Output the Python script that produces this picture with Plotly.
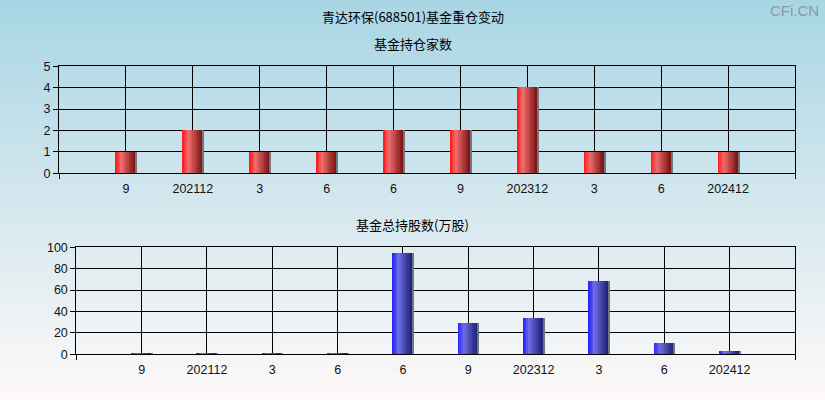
import base64, struct, zlib
import plotly.graph_objects as go

# ---- data ----
categories = ["9", "202112", "3", "6", "6", "9", "202312", "3", "6", "202412"]
fund_count = [1, 2, 1, 1, 2, 2, 4, 1, 1, 1]
fund_shares = [0.6, 0.6, 0.6, 0.6, 94.5, 29.2, 33.8, 68.5, 10.6, 3.1]

title_main = "青达环保(688501)基金重仓变动"
title_top = "基金持仓家数"
title_bottom = "基金总持股数(万股)"

xpos = list(range(1, len(categories) + 1))

# ---- background gradient png ----
def gradient_png(h, top, bottom):
    raw = b""
    for i in range(h):
        t = i / (h - 1)
        c = [round(top[k] + (bottom[k] - top[k]) * t) for k in range(3)]
        raw += b"\x00" + bytes(c)
    def chunk(tag, data):
        return struct.pack(">I", len(data)) + tag + data + struct.pack(">I", zlib.crc32(tag + data) & 0xffffffff)
    png = b"\x89PNG\r\n\x1a\n"
    png += chunk(b"IHDR", struct.pack(">IIBBBBB", 1, h, 8, 2, 0, 0, 0))
    png += chunk(b"IDAT", zlib.compress(raw))
    png += chunk(b"IEND", b"")
    return "data:image/png;base64," + base64.b64encode(png).decode()

bg = gradient_png(400, (168, 213, 228), (254, 249, 248))

def lerp(c1, c2, t):
    return tuple(round(c1[k] + (c2[k] - c1[k]) * t) for k in range(3))

def grad_colors(left, mid, right, n, midpos=0.3):
    out = []
    for i in range(n):
        t = (i + 0.5) / n
        if t < midpos:
            c = lerp(left, mid, t / midpos)
        else:
            c = lerp(mid, right, (t - midpos) / (1 - midpos))
        out.append("rgb(%d,%d,%d)" % c)
    return out

fig = go.Figure()

N = 12
BW = 0.3
red = grad_colors((255, 20, 20), (240, 110, 110), (120, 15, 15), N)
blue = grad_colors((30, 30, 255), (110, 110, 225), (30, 30, 120), N)

for i in range(N):
    fig.add_trace(go.Bar(x=xpos, y=fund_count, width=BW / N, offset=-BW / 2 + i * BW / N,
                         marker=dict(color=red[i], line=dict(width=0)), xaxis="x", yaxis="y",
                         showlegend=False, hoverinfo="skip"))
    fig.add_trace(go.Bar(x=xpos, y=fund_shares, width=BW / N, offset=-BW / 2 + i * BW / N,
                         marker=dict(color=blue[i], line=dict(width=0)), xaxis="x2", yaxis="y2",
                         showlegend=False, hoverinfo="skip"))
# grey shadow edge
fig.add_trace(go.Bar(x=xpos, y=fund_count, width=0.02, offset=BW / 2,
                     marker=dict(color="rgb(110,120,125)", line=dict(width=0)), xaxis="x", yaxis="y",
                     showlegend=False, hoverinfo="skip"))
fig.add_trace(go.Bar(x=xpos, y=fund_shares, width=0.02, offset=BW / 2,
                     marker=dict(color="rgb(110,120,125)", line=dict(width=0)), xaxis="x2", yaxis="y2",
                     showlegend=False, hoverinfo="skip"))

tickfont = dict(family="Liberation Sans, Arial", size=12.5, color="#111")
cjk = "Noto Sans CJK SC"

def xaxis_cfg(domain, anchor):
    return dict(domain=domain, anchor=anchor, range=[0, 11], tickmode="array", tickvals=xpos,
                ticktext=categories, showgrid=True, gridcolor="black", gridwidth=1,
                showline=True, linecolor="black", linewidth=1, mirror=True,
                ticks="outside", ticklen=4, tickcolor="rgba(0,0,0,0)", tickfont=tickfont,
                zeroline=False, fixedrange=True, automargin=False,
                minor=dict(tickmode="array", tickvals=[0, 11], ticks="outside", ticklen=5,
                           tickcolor="black", showgrid=False))

def yaxis_cfg(domain, anchor, rng, dtick):
    return dict(domain=domain, anchor=anchor, range=rng, dtick=dtick, showgrid=True,
                gridcolor="black", gridwidth=1, showline=True, linecolor="black", linewidth=1,
                mirror=True, ticks="outside", ticklen=5, tickcolor="black", tickfont=tickfont,
                zeroline=False, fixedrange=True, automargin=False)

def ann(text, x, y, size=13, family=cjk, color="black", xanchor="center"):
    return dict(text=text, x=x, y=y, xref="paper", yref="paper", showarrow=False,
                xanchor=xanchor, yanchor="middle", font=dict(family=family, size=size, color=color))

fig.update_layout(
    width=825, height=400, autosize=False,
    margin=dict(l=0, r=0, t=0, b=0, pad=0, autoexpand=False),
    paper_bgcolor="rgba(0,0,0,0)", plot_bgcolor="rgba(0,0,0,0)",
    barmode="overlay", bargap=0,
    xaxis=xaxis_cfg([59 / 825, 795 / 825], "y"),
    yaxis=yaxis_cfg([1 - 173.3 / 400, 1 - 66.3 / 400], "x", [0, 5], 1),
    xaxis2=xaxis_cfg([76.3 / 825, 795 / 825], "y2"),
    yaxis2=yaxis_cfg([1 - 354.3 / 400, 1 - 247.3 / 400], "x2", [0, 100], 20),
    images=[dict(source=bg, xref="paper", yref="paper", x=0, y=1, sizex=1, sizey=1,
                 sizing="stretch", layer="below", xanchor="left", yanchor="top")],
    annotations=[
        ann(title_main, 0.5, 1 - 17 / 400),
        ann(title_top, 0.5, 1 - 43 / 400),
        ann(title_bottom, 0.5, 1 - 224 / 400),
        ann("CFi.CN", 1 - 4 / 825, 1 - 10 / 400, size=15, family="Liberation Sans, Arial",
            color="#8a9aa0", xanchor="right"),
    ],
)

fig.write_html("out.html", config={"displayModeBar": False, "responsive": False},
               post_script="document.body.style.margin='0';document.body.style.overflow='hidden';")
